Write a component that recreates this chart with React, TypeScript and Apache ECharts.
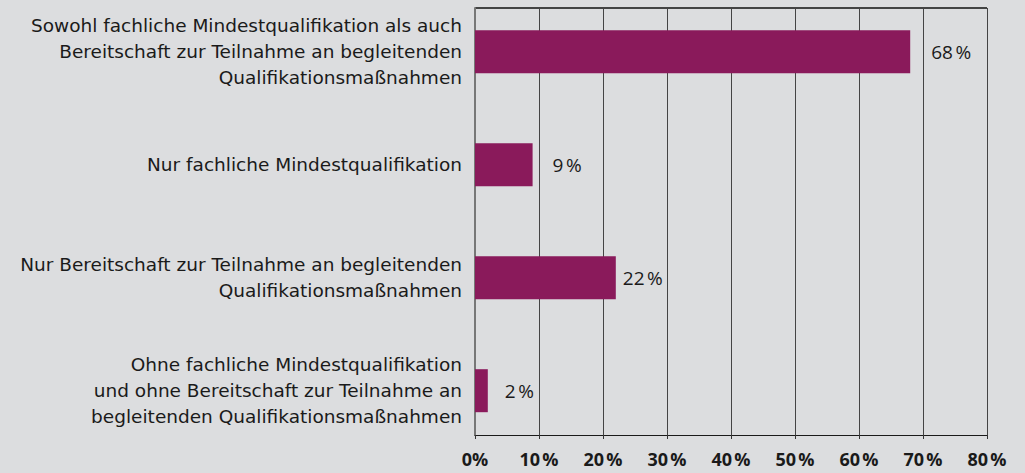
import React, { useEffect, useRef } from "react";
import * as echarts from "echarts";

const categories = [
  "Sowohl fachliche Mindestqualifikation als auch\nBereitschaft zur Teilnahme an begleitenden\nQualifikationsmaßnahmen",
  "Nur fachliche Mindestqualifikation",
  "Nur Bereitschaft zur Teilnahme an begleitenden\nQualifikationsmaßnahmen",
  "Ohne fachliche Mindestqualifikation\nund ohne Bereitschaft zur Teilnahme an\nbegleitenden Qualifikationsmaßnahmen",
];
const values = [68, 9, 22, 2];
const labelDistances = [21, 20, 7, 17];

const FONT = "'Open Sans', sans-serif";
const CAT_FONT = "'DejaVu Sans', sans-serif";
const OFF = 20;

export default function App() {
  const ref = useRef<HTMLDivElement>(null);
  useEffect(() => {
    document.body.style.margin = "0";
    document.body.style.background = "#dcdddf";
    document.body.style.overflow = "hidden";
    const chart = echarts.init(ref.current!, null, { renderer: "svg" });
    const left = 475;
    const width = 512;
    chart.setOption({
      animation: false,
      backgroundColor: "#dcdddf",
      grid: [
        { left, width, top: 8 + OFF, height: 427, containLabel: false, show: false },
        { left, width, top: -4.8 + OFF, height: 452, containLabel: false, show: false },
      ],
      xAxis: [
        {
          gridIndex: 0,
          type: "value",
          min: 0,
          max: 80,
          interval: 10,
          axisLine: { show: true, lineStyle: { color: "#1a1a1a", width: 1 } },
          axisTick: { show: true, length: 4, lineStyle: { color: "#333" } },
          splitLine: { show: true, lineStyle: { color: "#444", width: 1 } },
          axisLabel: {
            margin: 15,
            fontFamily: FONT,
            fontWeight: "bold",
            fontSize: 18,
            lineHeight: 18,
            color: "#1a1a1a",
            formatter: (v: number) => (v === 0 ? "0%" : v + "\u202f%"),
          },
        },
        {
          gridIndex: 1,
          type: "value",
          min: 0,
          max: 80,
          show: false,
        },
      ],
      yAxis: [
        {
          gridIndex: 0,
          type: "value",
          min: 0,
          max: 1,
          axisLine: { show: true, lineStyle: { color: "#777", width: 2 } },
          axisTick: { show: false },
          axisLabel: { show: false },
          splitLine: { show: false },
        },
        {
          gridIndex: 1,
          type: "category",
          inverse: true,
          data: categories,
          axisLine: { show: false },
          axisTick: { show: false },
          axisLabel: {
            margin: 13,
            fontFamily: CAT_FONT,
            fontSize: 18.5,
            lineHeight: 26,
            color: "#1a1a1a",
            align: "right",
          },
        },
      ],
      graphic: [
        {
          type: "line",
          shape: { x1: left, y1: 8 + OFF, x2: left + width, y2: 8 + OFF },
          style: { stroke: "#111", lineWidth: 1.5 },
        },
      ],
      series: [
        {
          type: "bar",
          xAxisIndex: 1,
          yAxisIndex: 1,
          barWidth: 43,
          itemStyle: { color: "#8a1a5b" },
          data: values.map((v, i) => ({
            value: v,
            label: {
              show: true,
              position: "right",
              distance: labelDistances[i],
              formatter: v + "\u202f%",
              fontFamily: FONT,
              fontSize: 19,
              color: "#1a1a1a",
            },
          })),
        },
      ],
    });
    return () => chart.dispose();
  }, []);
  return (
    <div
      ref={ref}
      style={{ position: "absolute", left: 0, top: -OFF, width: 1025, height: 473 + OFF }}
    />
  );
}
